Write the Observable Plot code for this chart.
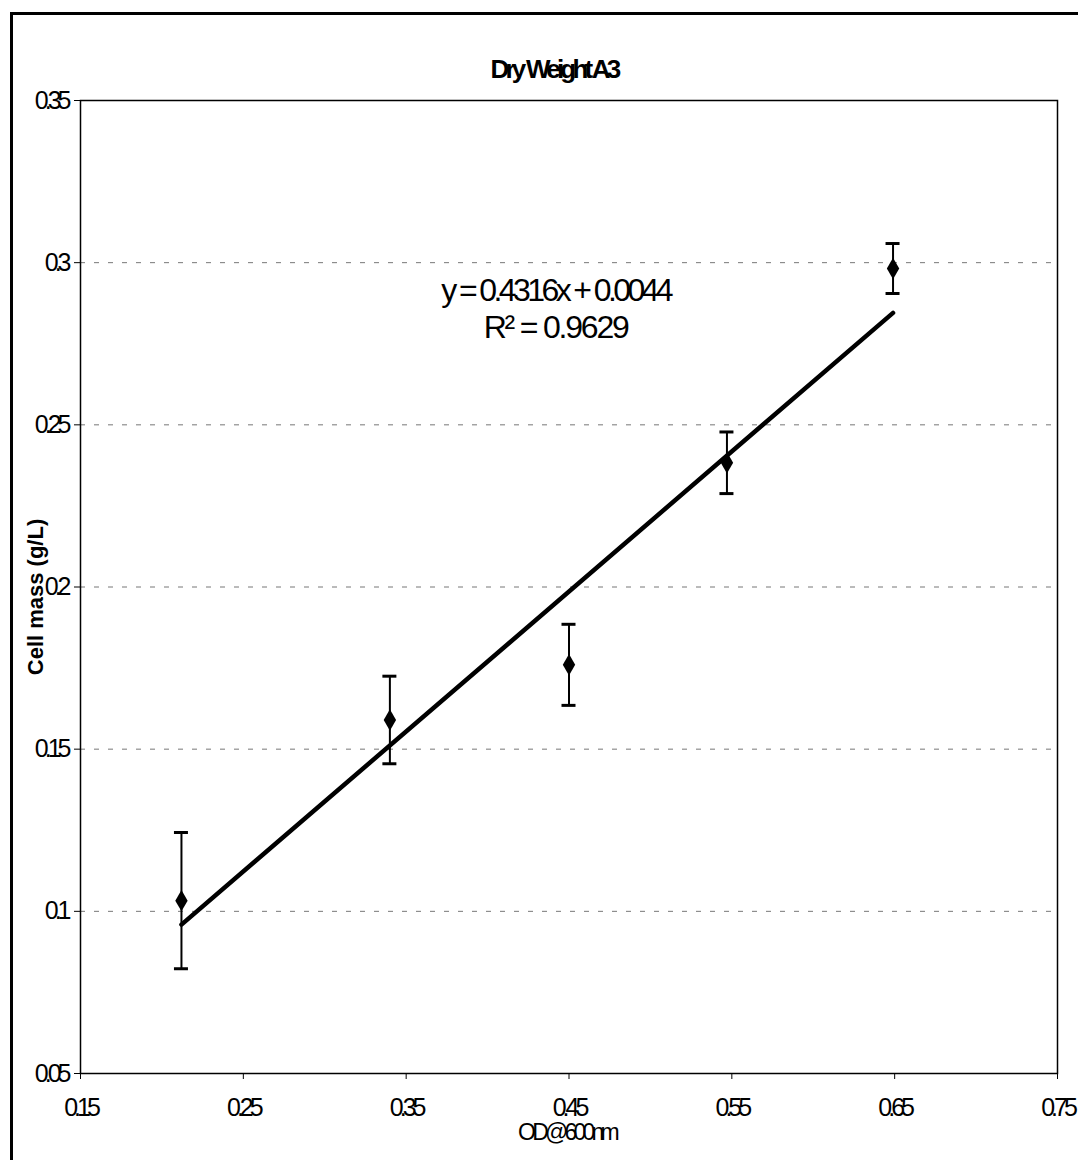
<!DOCTYPE html>
<html>
<head>
<meta charset="utf-8">
<script src="https://cdn.jsdelivr.net/npm/d3@7"></script>
<script src="https://cdn.jsdelivr.net/npm/@observablehq/plot@0.6"></script>
<style>
  html, body { margin: 0; padding: 0; background: #fff; }
  #wrap { position: relative; width: 1078px; height: 1160px; overflow: hidden; }
  #border { position: absolute; left: 10px; top: 12px; right: -10px; bottom: -10px;
            border-left: 3px solid #000; border-top: 3px solid #000; }
  #chart { position: absolute; left: 0; top: 0; }
  svg text { font-family: "Liberation Sans", Arial, sans-serif; }
</style>
</head>
<body>
<div id="wrap"><div id="border"></div><div id="chart"></div></div>
<script>
// Data
const odValues   = [0.212, 0.340, 0.450, 0.547, 0.649];
const massValues = [0.1033, 0.1590, 0.1760, 0.2383, 0.2982];
const errValues  = [0.0210, 0.0135, 0.0125, 0.0095, 0.0077];
const slope = 0.4316;
const intercept = 0.0044;
const xTicks = [0.15, 0.25, 0.35, 0.45, 0.55, 0.65, 0.75];
const yTicks = [0.05, 0.1, 0.15, 0.2, 0.25, 0.3, 0.35];
const gridTicks = [0.1, 0.15, 0.2, 0.25, 0.3];
const titleText = "Dry Weight A3";
const xLabel = "OD@600nm";
const yLabel = "Cell mass (g/L)";
const eqText = "y = 0.4316x + 0.0044";
const r2Text = "R² = 0.9629";

const data = odValues.map((x, i) => ({x, y: massValues[i], lo: massValues[i] - errValues[i], hi: massValues[i] + errValues[i]}));
const trend = [odValues[0], odValues[odValues.length - 1]].map(x => ({x, y: slope * x + intercept}));
const capHalf = 0.0043;

const plot = Plot.plot({
  width: 1078,
  height: 1160,
  marginLeft: 80,
  marginRight: 21,
  marginTop: 100,
  marginBottom: 87,
  style: {background: "transparent", overflow: "visible"},
  x: {domain: [0.15, 0.75]},
  y: {domain: [0.05, 0.35]},
  marks: [
    Plot.ruleY(gridTicks, {stroke: "#777", strokeWidth: 1, strokeDasharray: "5,9"}),
    Plot.frame({stroke: "#000", strokeWidth: 1.5}),
    Plot.axisX({ticks: xTicks, tickFormat: d => String(d), tickSize: 6, tickPadding: 19, label: null}),
    Plot.axisY({ticks: yTicks, tickFormat: d => String(d), tickSize: 6, tickPadding: 7, label: null}),
    Plot.ruleX(data, {x: "x", y1: "lo", y2: "hi", stroke: "#000", strokeWidth: 2}),
    Plot.ruleY(data, {y: "hi", x1: d => d.x - capHalf, x2: d => d.x + capHalf, stroke: "#000", strokeWidth: 3}),
    Plot.ruleY(data, {y: "lo", x1: d => d.x - capHalf, x2: d => d.x + capHalf, stroke: "#000", strokeWidth: 3}),
    Plot.line(trend, {x: "x", y: "y", stroke: "#000", strokeWidth: 4.5}),
    Plot.dot(data, {x: "x", y: "y", symbol: "diamond", r: 6.5, fill: "#000", stroke: "none"}),
    Plot.text([titleText], {frameAnchor: "top", textAnchor: "middle", lineAnchor: "middle", dx: -15, dy: -31, fontSize: 26, fontWeight: "bold", fill: "#000"}),
    Plot.text([xLabel], {frameAnchor: "bottom", textAnchor: "middle", lineAnchor: "middle", dx: -2, dy: 59, fontSize: 23, fill: "#000"}),
    Plot.text([yLabel], {frameAnchor: "left", textAnchor: "middle", lineAnchor: "middle", dx: -45, dy: 10, rotate: -90, fontSize: 22, fontWeight: "bold", fill: "#000"}),
    Plot.text([{x: 0.4418, y: 0.2914, t: eqText}], {x: "x", y: "y", text: "t", fontSize: 32, fill: "#000"}),
    Plot.text([{x: 0.4418, y: 0.2800, t: r2Text}], {x: "x", y: "y", text: "t", fontSize: 32, fill: "#000"})
  ]
});
document.getElementById("chart").appendChild(plot);

// condensed text look of the original
const tickLabels = new Set([...xTicks, ...yTicks].map(d => String(d)));
d3.select(plot).selectAll("text").each(function() {
  const t = this.textContent;
  const s = d3.select(this);
  if (tickLabels.has(t)) s.attr("font-size", 25).style("font-size", "25px").style("letter-spacing", "-4px");
  else if (t === eqText) s.style("letter-spacing", "-3.6px");
  else if (t === r2Text) s.style("letter-spacing", "-2.2px");
  else if (t === titleText) s.style("letter-spacing", "-3.8px");
  else if (t === xLabel) s.style("letter-spacing", "-3.8px");
});
</script>
</body>
</html>
